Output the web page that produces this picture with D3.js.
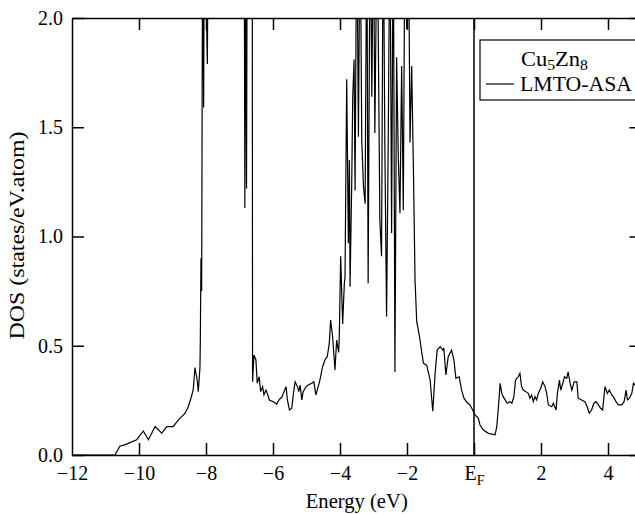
<!DOCTYPE html>
<html>
<head>
<meta charset="utf-8">
<script src="https://cdn.jsdelivr.net/npm/d3@7"></script>
<style>
  html, body { margin: 0; padding: 0; background: #fff; }
  svg { display: block; }
  text { font-family: "Liberation Serif", "Times New Roman", serif; fill: #000; }
</style>
</head>
<body>
<svg id="chart" width="635" height="514"></svg>
<script>
// ---- data ----
const energy = [
  -12, -10.72, -10.57, -10.37, -10.07, -9.87, -9.72, -9.52, -9.32, -9.17, -8.98, -8.83, -8.63, -8.53, -8.43, -8.38, -8.33, -8.26, -8.23, -8.18,
  -8.17, -8.15, -8.13, -8.10, -8.07, -8.05, -8.02, -7.96, -7.93, -6.86, -6.84, -6.82, -6.79, -6.77, -6.62,
  -6.61, -6.57, -6.51, -6.47, -6.41, -6.37, -6.31, -6.27, -6.21, -6.17, -6.11, -5.99, -5.89, -5.81, -5.74, -5.69, -5.61, -5.57, -5.51, -5.44,
  -5.39, -5.34, -5.27, -5.23, -5.19, -5.14, -5.10, -5.01, -4.95, -4.84, -4.78, -4.72, -4.65, -4.60, -4.52, -4.45, -4.38, -4.32, -4.28, -4.22,
  -4.15, -4.10, -4.04, -4.02, -3.98, -3.92, -3.87, -3.85, -3.80, -3.75, -3.72, -3.70, -3.65, -3.62, -3.58, -3.55, -3.50, -3.45, -3.40, -3.35,
  -3.30, -3.25, -3.20, -3.16, -3.10, -3.05, -3.00, -2.96, -2.89, -2.81, -2.76, -2.71, -2.66, -2.61, -2.56, -2.51, -2.46, -2.41, -2.36, -2.31,
  -2.26, -2.21, -2.16, -2.11, -2.06, -2.01, -1.96, -1.91, -1.86, -1.81, -1.76, -1.71, -1.66, -1.61, -1.56, -1.51, -1.41, -1.31, -1.23, -1.16,
  -1.10, -1.01, -0.93, -0.90, -0.84, -0.77, -0.67, -0.60, -0.54, -0.44, -0.37, -0.30, -0.21, -0.12, -0.04, 0.03, 0.13, 0.18, 0.28, 0.43,
  0.63, 0.68, 0.73, 0.78, 0.83, 0.87, 0.93, 0.99, 1.07, 1.13, 1.19, 1.24, 1.32, 1.37, 1.42, 1.47, 1.55, 1.62, 1.67, 1.72,
  1.77, 1.82, 1.87, 1.92, 1.99, 2.05, 2.12, 2.17, 2.22, 2.32, 2.37, 2.45, 2.49, 2.55, 2.59, 2.65, 2.70, 2.77, 2.81, 2.87,
  2.92, 2.99, 3.07, 3.11, 3.21, 3.31, 3.38, 3.44, 3.51, 3.58, 3.64, 3.71, 3.78, 3.84, 3.91, 3.98, 4.04, 4.11, 4.16, 4.24,
  4.31, 4.41, 4.48, 4.54, 4.58, 4.64, 4.71, 4.76, 4.81, 5.0
];
const dos = [
  0, 0, 0.04, 0.05, 0.07, 0.11, 0.07, 0.13, 0.10, 0.13, 0.13, 0.16, 0.19, 0.22, 0.27, 0.30, 0.40, 0.34, 0.29, 0.40,
  0.52, 0.90, 0.75, 2.5, 1.59, 2.5, 2.3, 1.79, 2.5, 2.5, 1.13, 2.5, 1.22, 2.5, 2.5,
  0.335, 0.458, 0.435, 0.328, 0.358, 0.29, 0.313, 0.275, 0.297, 0.282, 0.252, 0.244, 0.233, 0.255, 0.264, 0.282, 0.313, 0.252, 0.206, 0.214,
  0.282, 0.335, 0.313, 0.29, 0.32, 0.252, 0.29, 0.313, 0.32, 0.328, 0.335, 0.275, 0.313, 0.343, 0.404, 0.435, 0.45, 0.511, 0.618, 0.541,
  0.389, 0.526, 0.47, 0.55, 0.91, 0.60, 0.786, 0.816, 1.72, 0.969, 1.35, 0.77, 1.245, 1.64, 1.81, 1.21, 2.5, 1.457, 2.5, 1.44,
  1.23, 1.15, 2.5, 0.786, 2.5, 1.64, 2.5, 1.474, 2.5, 1.075, 0.91, 2.5, 1.40, 0.633, 1.44, 2.5, 1.016, 2.5, 0.38, 1.82,
  1.365, 1.107, 1.78, 1.12, 2.5, 1.95, 2.5, 1.43, 1.78, 1.32, 0.80, 0.61, 0.57, 0.526, 0.47, 0.42, 0.41, 0.343, 0.20, 0.374,
  0.48, 0.496, 0.48, 0.49, 0.366, 0.45, 0.48, 0.435, 0.351, 0.358, 0.297, 0.26, 0.24, 0.229, 0.206, 0.183, 0.168, 0.137, 0.114, 0.099,
  0.092, 0.13, 0.221, 0.328, 0.282, 0.267, 0.252, 0.237, 0.244, 0.237, 0.267, 0.343, 0.358, 0.374, 0.313, 0.297, 0.29, 0.282, 0.26, 0.275,
  0.244, 0.267, 0.252, 0.282, 0.305, 0.335, 0.313, 0.282, 0.229, 0.221, 0.237, 0.206, 0.282, 0.343, 0.297, 0.328, 0.358, 0.351, 0.381, 0.328,
  0.297, 0.335, 0.335, 0.26, 0.252, 0.244, 0.221, 0.191, 0.206, 0.237, 0.244, 0.229, 0.214, 0.206, 0.313, 0.282, 0.297, 0.275, 0.267, 0.244,
  0.229, 0.229, 0.244, 0.297, 0.252, 0.26, 0.282, 0.328, 0.32, 0.30
];
const xTicks = [-10, -8, -6, -4, -2, 0, 2, 4];
const xTickLabels = ["\u221210", "\u22128", "\u22126", "\u22124", "\u22122", "E", "2", "4"];
const yTicks = [0, 0.5, 1.0, 1.5, 2.0];
const yTickLabels = ["0.0", "0.5", "1.0", "1.5", "2.0"];
const xLabelAll = [-12].concat(xTicks);
const xLabelText = ["\u221212"].concat(xTickLabels);

// ---- layout ----
const svg = d3.select("#chart");
const L = 72, R = 641.5, T = 18, B = 455;
const x = d3.scaleLinear().domain([-12, 5]).range([L, R]);
const y = d3.scaleLinear().domain([0, 2]).range([B, T]);
const TK = 12;

svg.append("defs").append("clipPath").attr("id", "plotclip")
  .append("rect").attr("x", L).attr("y", T).attr("width", R - L).attr("height", B - T);

// curve
const pts = energy.map((e, i) => [e, dos[i]]);
svg.append("path")
  .attr("clip-path", "url(#plotclip)")
  .attr("d", d3.line().x(d => x(d[0])).y(d => y(d[1]))(pts))
  .attr("fill", "none").attr("stroke", "#000").attr("stroke-width", 1.2)
  .attr("stroke-linejoin", "miter");

// Fermi level line
svg.append("line").attr("x1", x(0)).attr("x2", x(0)).attr("y1", T).attr("y2", B)
  .attr("stroke", "#000").attr("stroke-width", 1.5);

// axes (inward ticks)
const fmtX = d => xLabelText[xLabelAll.indexOf(d)];
const gB = svg.append("g").attr("transform", `translate(0,${B})`)
  .call(d3.axisBottom(x).tickValues(xLabelAll).tickFormat(fmtX).tickSizeInner(-TK).tickSizeOuter(0).tickPadding(11));
const gT = svg.append("g").attr("transform", `translate(0,${T})`)
  .call(d3.axisTop(x).tickValues(xTicks).tickFormat("").tickSizeInner(-TK).tickSizeOuter(0));
const gL = svg.append("g").attr("transform", `translate(${L},0)`)
  .call(d3.axisLeft(y).tickValues(yTicks).tickFormat((d, i) => yTickLabels[i]).tickSizeInner(-TK).tickSizeOuter(0).tickPadding(9));
const gR = svg.append("g").attr("transform", `translate(${R},0)`)
  .call(d3.axisRight(y).tickValues(yTicks).tickFormat("").tickSizeInner(-TK).tickSizeOuter(0));

[gB, gT, gL, gR].forEach(g => {
  g.selectAll(".domain").attr("stroke", "#000").attr("stroke-width", 1.5);
  g.selectAll(".tick line").attr("stroke", "#000").attr("stroke-width", 1.5);
  g.selectAll(".tick text").attr("font-family", '"Liberation Serif", serif').attr("font-size", 20).attr("fill", "#000");
});
gB.selectAll(".tick").filter(d => d === -12).select("line").remove();
// E_F subscript
gB.selectAll(".tick").filter(d => d === 0).select("text")
  .append("tspan").attr("font-size", 14).attr("dy", "0.35em").text("F");

// axis titles
svg.append("text").attr("x", (L + R) / 2).attr("y", 508).attr("text-anchor", "middle")
  .attr("font-size", 20).attr("textLength", 102).attr("lengthAdjust", "spacingAndGlyphs").text("Energy (eV)");
svg.append("text").attr("transform", `translate(24,${(T + B) / 2 - 1}) rotate(-90)`)
  .attr("text-anchor", "middle").attr("font-size", 20)
  .attr("textLength", 208).attr("lengthAdjust", "spacingAndGlyphs").text("DOS (states/eV.atom)");

// legend
const lg = svg.append("g");
lg.append("rect").attr("x", 480).attr("y", 40).attr("width", 170).attr("height", 60)
  .attr("fill", "#fff").attr("stroke", "#000").attr("stroke-width", 1.2);
const t1 = lg.append("text").attr("x", 521).attr("y", 66).attr("font-size", 20)
  .attr("textLength", 67).attr("lengthAdjust", "spacingAndGlyphs");
t1.append("tspan").text("Cu");
t1.append("tspan").attr("font-size", 14).attr("dy", 4).text("5");
t1.append("tspan").attr("dy", -4).text("Zn");
t1.append("tspan").attr("font-size", 14).attr("dy", 4).text("8");
lg.append("line").attr("x1", 486).attr("x2", 514).attr("y1", 84).attr("y2", 84)
  .attr("stroke", "#000").attr("stroke-width", 1.2);
lg.append("text").attr("x", 520).attr("y", 91).attr("font-size", 20)
  .attr("textLength", 112).attr("lengthAdjust", "spacingAndGlyphs").text("LMTO-ASA");
</script>
</body>
</html>
